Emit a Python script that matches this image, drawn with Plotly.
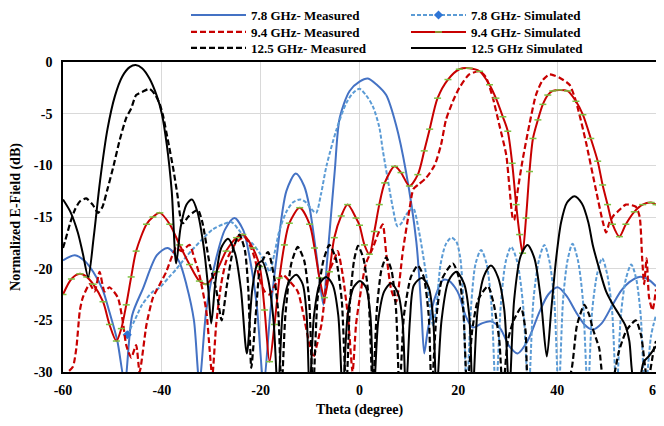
import plotly.graph_objects as go

# ---------------- data ----------------
theta_78_meas = [-60, -57.6, -55.5, -53.9, -52, -50.6, -49, -47.5, -46, -43.8, -41, -38.8, -36.5, -35, -33.5,
                 -32.4, -31, -29, -27.2, -25.3, -23.5, -22.2, -20.8, -19.4, -18, -16.8, -14.8, -12.9, -11.2,
                 -10.1, -8.9, -8.1, -7.3, -6.6, -6.1, -5, -4, -2, 0, 1.7, 3.5, 5.4, 7.4, 9.4, 11.5, 12.5,
                 13.1, 13.8, 15.2, 16.9, 18.2, 19.3, 20.2, 21.5, 22.9, 24.7, 26.6, 28.5, 30.3, 32, 34, 36.4,
                 38.2, 40.1, 42, 43.8, 45.5, 47.2, 49, 51.2, 53, 54.6, 56.6, 58.3, 60]
db_78_meas = [-19.2, -18.7, -19.3, -20.3, -22, -24.2, -27, -31, -24.5, -21.9, -18.7, -18.0, -19.3, -21.6, -25,
              -31, -24, -19, -16.2, -15.1, -16.3, -19, -23.5, -31, -24, -19, -12.5, -10.8, -12,
              -14.1, -18, -21, -23.5, -19.5, -16.7, -10.5, -5.4, -2.8, -1.9, -1.6, -2.2, -3.2, -6.1, -10.6, -17.4, -23.8,
              -28.2, -26, -22.9, -21.1, -21.2, -21.8, -22.6, -24.6, -25.7, -25.3, -25.1, -25.8, -27.5, -28.2, -27, -24.2,
              -22.5, -21.8, -22.7, -24.2, -25.4, -25.9, -25.3, -23.5, -22.1, -21.3, -20.8, -21, -21.7]

theta_78_sim = [-47, -45.5, -44, -42, -40.4, -38.5, -37, -35, -33.7, -31.5, -29.7, -27.6, -25.9, -24.5, -23.2,
                -21.6, -20.2, -19, -18.2, -17.2, -16.2, -14.8, -13.5, -12, -10.8, -9.8, -8.8, -7.8, -6.7, -4.7,
                -2.7, -1.3, 0, 1.3, 2.7, 4, 4.7, 5.7, 6.7, 7.7, 8.5, 9.4, 10.8, 12, 12.8, 13.6, 14.2, 14.9,
                15.6, 16.4, 17.5, 18.6, 19.6, 20.4, 21, 21.7,
                22.6, 23.5, 24.6, 25.7, 26.7, 27.6,
                28.6, 29.6, 30.7, 31.9, 33.1, 34.2,
                35.2, 36.3, 37.4, 38.4, 39.4, 40.3,
                41.2, 42.1, 43.1, 44.2, 45.2, 46.2,
                47.1, 48.1, 49.1, 50.1, 51.1, 52,
                52.9, 53.9, 55, 56, 56.9, 57.8, 59, 60]
db_78_sim = [-26.4, -25, -23.5, -22.3, -21.8, -20.8, -20, -18.8, -18.1, -17, -16.2, -15.7, -15.5, -16.2, -17,
             -17.6, -18.5, -19.5, -20.3, -18.5, -16.3, -14.5, -13.6, -13.3, -13.6, -14.2, -14.6, -12.8, -10.1, -6.6,
             -4.0, -3, -2.6, -3.2, -4.3, -6.3, -8.5, -11.3, -14, -15.9, -15.6, -14.8, -14.1, -16.3, -18.5, -21, -23.4, -25.5,
             -23.5, -19.6, -17.6, -17, -17.4, -19, -23, -32,
             -23.5, -19.5, -18.2, -19.5, -23.5, -32,
             -23.5, -19.3, -17.9, -19.3, -23.5, -32,
             -23, -19.2, -17.7, -19.2, -23, -32,
             -23, -19.2, -17.6, -19.2, -23, -32,
             -24, -20.5, -19, -20.5, -24, -32,
             -24.5, -21, -19.6, -21, -24.5, -32, -26.5, -24.5]

theta_94_meas = [-60, -59, -58, -57.3, -56.6, -56, -54.6, -53.6, -52.6, -51.6, -50.6, -48.9, -47.9, -47.2, -46.2,
                 -45.2, -44.5, -43.1, -41.8, -40.4, -39.1, -38.1, -37.1, -36, -34.4, -33.4, -32.4, -31, -30.3,
                 -29.8, -29, -28, -27, -25.3, -24.3, -23.3, -22.2, -21.2, -20.2, -19.2, -18.2, -17, -15.5, -14.2,
                 -12.5, -11.5, -10.1, -9.4, -7.7, -6.4, -5, -4.4, -3.4, -2.3, -1.4, -0.7, 0, 1.3, 2.7, 3.7, 4.7,
                 5.4, 6.4, 7.4, 8.8, 10.1, 10.9, 12.1, 13.5, 15.2, 16.5, 17.5, 18.9, 20.2, 22.2, 24.3, 25.6, 27,
                 28.3, 29.7, 30.3, 31, 31.3, 32, 33, 34.4, 35.7, 37, 38.4, 39.4, 40.4, 42.5, 43.8, 45.8, 47.9,
                 49.2, 49.9, 50.6, 51.5, 52.2, 53.9, 55.9, 56.7, 57.2, 57.6, 58.1, 58.6, 59.3, 60]
db_94_meas = [-30.5, -30, -29.5, -27.7, -24.1, -22.8, -21.5, -22.2, -20.3, -22.2, -21.8, -22.8, -25.1, -27.4, -28.6,
              -27.4, -30, -25.4, -22.8, -21.5, -20.3, -19, -18, -18.3, -17.7, -19, -20.6, -24.1, -28,
              -30.5, -25.4, -21.5, -19.3, -17.7, -17.2, -16.9, -17.7, -19, -21, -22.2, -22.5, -21.5, -20.6, -21.2,
              -22.2, -24.1, -27.4, -28.6, -25.4, -20.6, -19, -18.3, -20.6, -24.8, -30, -25.4, -23, -19.5, -18, -16.7, -15.7,
              -18.5, -22, -23.2, -18.2, -14.3, -12.3, -11.8, -11.2, -10, -8, -5.6, -3.8, -2.5, -1.2, -0.9, -1.5, -3.5,
              -6.1, -9, -11.9, -15.1, -15.3, -12.5, -9.5, -6, -3.2, -1.8, -1.2, -1.3, -1.5, -2.2, -3.8, -7.7, -12.5,
              -15.4, -16.5, -15.5, -14.8, -14.5, -13.8, -14, -15, -19, -21.5, -19, -22.8, -24, -22]

theta_94_sim = [-60, -58.3, -56.6, -55.2, -53.9, -51.9, -50.6, -49.2, -48.2, -47.2, -46.2, -45.2, -43.1, -41.8,
                -40.4, -38.4, -36.4, -34.4, -32.4, -31, -29, -27, -24.9, -23.6, -21.6, -20.2, -19.2, -18.2, -17.2,
                -16.2, -15.2, -14.2, -12.1, -10.1, -9.1, -8.1, -7.1, -6.1, -5.1, -3.7, -2.4, -0.7, 0, 1, 2, 3, 4,
                5.1, 7.1, 8.4, 10.1, 11.8, 13.1, 14.2, 15.8, 17.9, 20.2, 22.2, 24.3, 26.3, 27.6, 29, 30, 30.9,
                31.7, 32.4, 33, 33.7, 34.4, 35.1, 36.1, 37.1, 38.1, 39.1, 40.4, 42.1, 43.8, 45.2, 46.8, 48.2,
                49.2, 50.2, 51.2, 52.6, 53.9, 55.6, 57.3, 59, 60]
db_94_sim = [-22.5, -21, -20.5, -20.8, -21.5, -23.2, -25.4, -27, -25.8, -23.5, -20.8, -18.3, -15.7, -15,
             -14.6, -15.7, -17.7, -19.6, -21.2, -21.5, -20.3, -18.3, -17, -16.7, -18, -19.8, -24, -29, -25.4,
             -20.9, -17.7, -15.6, -14.1, -15.7, -18, -20.9, -22.8, -20.3, -17, -14.9, -13.8, -15.1, -15.8, -17.7, -18.6, -16.4, -13.8,
             -11.7, -10.1, -10.7, -12, -10.9, -8.6, -6.5, -3.5, -1.7, -0.7, -0.6, -0.9, -2.2, -3.5, -5.3, -6.7, -9.8,
             -13.8, -16.7, -18.5, -15.1, -10.6, -7.4, -5.6, -4.1, -3.2, -2.8, -2.7, -2.8, -3.8, -5.1, -7.4, -9.6,
             -11.9, -13.8, -15.7, -16.9, -15.7, -14.5, -13.8, -13.6, -13.8]

theta_125_meas = [-60, -59.5, -58.5, -57.5, -56.6, -55.3, -54, -52.9, -52, -51, -49.9, -48.5, -47.2, -46.2, -45.2,
                  -44, -42.5, -41.3, -40.4, -39.8, -38.8, -37.7, -36.8, -36.1, -35.7, -34.7, -33.5, -32.7, -31.8,
                  -30.3, -29, -27.9, -26.8, -25.5, -24.3, -23.2, -22.5, -21.9, -21, -20, -18.5, -17.2, -16.4,
                  -15.8, -15, -13.8, -12.5, -11.2, -10.2, -9.4, -8.5, -7.3, -6.1, -4.8, -3.6, -2.7, -1.9, -1.1,
                  -0.3, 0.8, 1.8, 2.7, 3.5, 4.4, 5.4, 6.5, 7.4, 8.1, 9, 10.4, 11.8, 13, 14, 14.6, 15.5, 16.7,
                  18.9, 20.2, 21, 21.8, 22.8, 24, 26, 27.2, 28.3, 29, 30, 31.2, 32.7, 33.6, 34.4, 37, 40, 42.8,
                  44, 45.5, 46.5, 47.2, 48.5, 49.5, 51, 52.5, 54, 55.9, 57, 58.3, 59.6, 60]
db_125_meas = [-18, -17.2, -15.5, -14.2, -13.5, -13.2, -13.8, -14.6, -14, -12.3, -10.3, -7.5, -5.4, -4.5, -3.2,
               -2.9, -2.6, -3.2, -4.1, -5.1, -7.5, -10.3, -13, -15.4, -15.6, -15, -14.5, -14.3, -15.5,
               -19.6, -22, -25, -21.5, -18, -16.7, -18.2, -22, -29.6, -24.5, -19.6, -18.4, -21, -24.5,
               -32, -24.5, -19.5, -17.9, -19.2, -23, -32, -23, -19.2, -17.7, -19, -23, -32, -23, -19.2,
               -17.8, -19, -22.5, -32, -24, -20.2, -18.9, -20.2, -24, -32, -24.5, -20.8, -19.7, -20.8, -24.5, -32, -25, -21,
               -19.5, -21, -24, -32, -26, -23, -21.7, -23.5, -27, -32, -27, -25, -23.8, -26, -32, -33, -33, -30,
               -25.5, -23.5, -24.5, -25.8, -27.7, -31, -31, -28, -26, -25, -26.5, -31, -27.7, -27]

theta_125_sim = [-60, -58.5, -57, -56, -54.9, -53.8, -52.5, -51, -49.5, -48, -46.5, -45.3, -44, -42.5, -41,
                 -40, -39, -38, -37.1, -36.2, -35, -33.9, -32.8, -31.5, -30.6, -30, -29.2, -28, -26.6, -25.2,
                 -24, -22.8, -21.7, -20.7, -19.7, -18.5, -17.4, -16.5, -15.5, -14.3, -12.8, -11.5, -10.7, -10.1,
                 -9.2, -8, -6.7, -5.4, -4.3, -3.4, -2.4, -1.2, 0.1, 1.3, 2.2, 2.9, 3.8, 5, 6.4, 7.8, 8.7, 9.4,
                 10.2, 11, 12.6, 14, 14.9, 15.6, 16.6, 18, 19.6, 21.2, 22.2, 22.9, 23.9, 25.2, 26.6, 28, 29.3,
                 30.3, 31.3, 32.6, 34, 35.4, 36.7, 37.9, 38.8, 39.8, 40.8, 42, 43.5, 45, 46.3, 47.2, 48.5, 49.9,
                 51.3, 52.6, 53.8, 54.6, 55.6, 56.5, 57.5, 58.5, 60]
db_125_sim = [-13.3, -14.5, -16.5, -18.5, -20.8, -17, -11.5, -6.5, -3.3, -1.4, -0.5, -0.3, -0.6, -1.6, -3.3,
              -5, -8, -12.5, -19.5, -16, -13.8, -13.3, -14.5, -18, -22, -25.3, -21.5, -18, -17.1, -18.5,
              -22, -28.2, -22, -19.6, -19.3, -21, -25, -32, -24, -21.3, -20.6, -21.5, -24.5, -32,
              -24.5, -21.4, -20.8, -21.6, -24.5, -32, -24.5, -21.8, -21.2, -21.8, -24.5, -32, -25, -22.2, -21.4, -22.4, -25, -32,
              -25, -21.6, -20.9, -21.8, -24.8, -32, -25, -21.2, -20.3, -21.5, -24.5, -32, -24, -20.7, -19.7, -20.8, -24,
              -32, -23, -18.8, -17.7, -19, -23, -28.5, -24, -19, -15.5, -13.6, -13, -13.7, -15.5, -17.7, -20, -22.2,
              -23.5, -24.5, -25.5, -27, -31, -31, -29, -28.5, -27.5]

x_ticks = [-60, -40, -20, 0, 20, 40, 60]
y_ticks = [0, -5, -10, -15, -20, -25, -30]

# ---------------- styles ----------------
BLUE = "#4472C4"
LBLUE = "#5B9BD5"
RED = "#C80000"
GREEN = "#7CC242"
BLACK = "#000000"
FONT = "Liberation Serif"

fig = go.Figure()

fig.add_trace(go.Scatter(x=theta_78_meas, y=db_78_meas, name="7.8 GHz- Measured", mode="lines",
                         legend="legend",
                         line=dict(color=BLUE, width=2, shape="spline", smoothing=0.8)))

lb_colors = ["#2E75D6"] + ["rgba(0,0,0,0)"] * (len(theta_78_sim) - 1)
fig.add_trace(go.Scatter(x=theta_78_sim, y=db_78_sim, name="7.8 GHz- Simulated", mode="lines+markers",
                         legend="legend",
                         line=dict(color=LBLUE, width=2, dash="4px,2px", shape="spline", smoothing=0.8),
                         marker=dict(symbol="diamond", size=7, color=lb_colors, line=dict(width=0))))

fig.add_trace(go.Scatter(x=theta_94_meas, y=db_94_meas, name="9.4 GHz- Measured", mode="lines",
                         legend="legend2",
                         line=dict(color=RED, width=2.2, dash="6px,3px", shape="spline", smoothing=0.6)))

fig.add_trace(go.Scatter(x=theta_94_sim, y=db_94_sim, name="9.4 GHz- Simulated", mode="lines+markers",
                         legend="legend2",
                         line=dict(color=RED, width=2, shape="spline", smoothing=0.8),
                         marker=dict(symbol="line-ew", size=5, color=GREEN, line=dict(color=GREEN, width=1.5))))

fig.add_trace(go.Scatter(x=theta_125_meas, y=db_125_meas, name="12.5 GHz- Measured", mode="lines",
                         legend="legend3",
                         line=dict(color=BLACK, width=2.2, dash="6px,3px", shape="spline", smoothing=0.6)))

fig.add_trace(go.Scatter(x=theta_125_sim, y=db_125_sim, name="12.5 GHz Simulated", mode="lines",
                         legend="legend3",
                         line=dict(color=BLACK, width=2, shape="spline", smoothing=0.8)))

axis_font = dict(family=FONT, size=14, color="black", weight="bold")
leg_font = dict(family=FONT, size=13, color="black", weight="bold")

# the page body adds an 8 px offset, so the figure is placed at (8, 8)
FIG_W, FIG_H = 656, 410


def leg(y_page):
    return dict(orientation="h", x=178 / FIG_W, y=1 - (y_page - 8) / FIG_H, xanchor="left", yanchor="middle",
                xref="container", yref="container", font=leg_font,
                itemwidth=55, entrywidth=150, entrywidthmode="pixels",
                bgcolor="rgba(0,0,0,0)", borderwidth=0)


fig.update_layout(
    width=FIG_W, height=FIG_H,
    margin=dict(l=55, r=8, t=54, b=46, autoexpand=False),
    paper_bgcolor="white", plot_bgcolor="white",
    font=dict(family=FONT, size=14, color="black"),
    showlegend=True,
    legend=leg(15),
    legend2=leg(32),
    legend3=leg(48),
    xaxis=dict(range=[-60, 60], tickvals=x_ticks, ticktext=[str(v) for v in x_ticks],
               showgrid=True, gridcolor="#D9D9D9", gridwidth=1, zeroline=False,
               showline=True, linecolor="black", linewidth=1.5, mirror=True,
               ticks="", tickfont=axis_font, ticklabelstandoff=4, automargin=False,
               title=dict(text="Theta (degree)", font=axis_font, standoff=14)),
    yaxis=dict(range=[-30, 0], tickvals=y_ticks, ticktext=[str(v) for v in y_ticks],
               showgrid=True, gridcolor="#D9D9D9", gridwidth=1, zeroline=False,
               showline=True, linecolor="black", linewidth=1.5, mirror=True,
               ticks="", tickfont=axis_font, ticklabelstandoff=6, automargin=False,
               title=dict(text="Normalized E-Field (dB)", font=axis_font, standoff=12)),
)

fig.write_html("out.html")
